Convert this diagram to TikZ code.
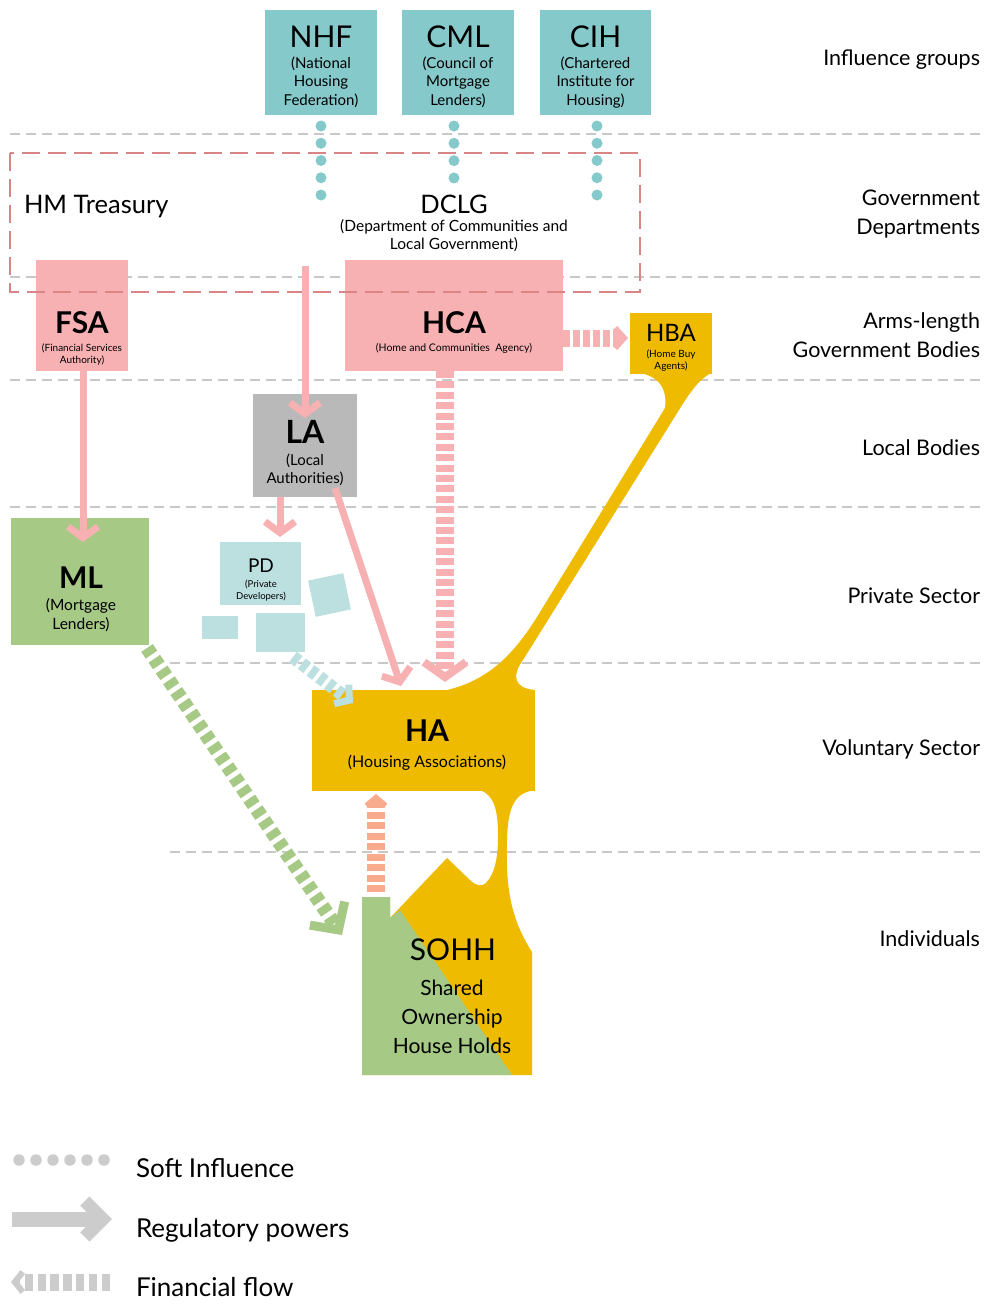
\documentclass[tikz,border=0pt]{standalone}
\usepackage{fontspec}
\setmainfont{Lato}
\usetikzlibrary{arrows.meta}
\definecolor{cteal}{HTML}{86C9CB}
\definecolor{cpink}{HTML}{F7B1B3}
\definecolor{cyel}{HTML}{EFBB00}
\definecolor{cgrayb}{HTML}{B9B9B9}
\definecolor{cgreen}{HTML}{A6C986}
\definecolor{cpd}{HTML}{BCDFE0}
\definecolor{corange}{HTML}{F9AB8E}
\definecolor{clegend}{HTML}{CCCCCC}
\definecolor{cred}{HTML}{D98585}
\definecolor{csep}{HTML}{C8C8C8}
\newcommand\fsz[2]{\fontsize{#1}{#2}\selectfont}
\tikzset{
  bx/.style={fill=#1, draw=none, inner sep=0pt, outer sep=0pt, rectangle},
  txt/.style={inner sep=0pt, outer sep=0pt, anchor=base, align=center},
  rlab/.style={inner sep=0pt, outer sep=0pt, anchor=base east, align=right, font=\fsz{21.5}{29}},
  sepline/.style={draw=csep, line width=1.2pt, dash pattern=on 10pt off 6pt},
  soft/.style={draw=cteal, line width=11pt, line cap=round, dash pattern=on 0pt off #1},
  reg/.style={draw=cpink, line width=7pt, -{Straight Barb[length=11pt,width=30pt,line width=7pt]}},
}
\begin{document}
\begin{tikzpicture}[x=1pt,y=-1pt]
\useasboundingbox (0,0) rectangle (988,1304);
% separators
\draw[sepline] (10,134) -- (980,134);
\draw[sepline] (10,277) -- (980,277);
\draw[sepline] (10,380) -- (980,380);
\draw[sepline] (10,507) -- (980,507);
\draw[sepline] (170,663) -- (980,663);
\draw[sepline] (170,852) -- (980,852);

% influence groups
\node[bx=cteal, minimum width=112pt, minimum height=105pt] (nhf) at (321,62.5) {};
\node[bx=cteal, minimum width=112pt, minimum height=105pt] (cml) at (458,62.5) {};
\node[bx=cteal, minimum width=111pt, minimum height=105pt] (cih) at (595.5,62.5) {};
\node[txt, font=\fsz{30}{30}] (nhft) at (321,47) {NHF};
\node[txt, font=\fsz{15}{18.5}] (nhfs) at (321,105) {(National\\Housing\\Federation)};
\node[txt, font=\fsz{30}{30}] (cmlt) at (458,47) {CML};
\node[txt, font=\fsz{15}{18.5}] (cmls) at (458,105) {(Council of\\Mortgage\\Lenders)};
\node[txt, font=\fsz{30}{30}] (ciht) at (595.5,47) {CIH};
\node[txt, font=\fsz{15}{18.5}] (cihs) at (595.5,105) {(Chartered\\Institute for\\Housing)};

% soft influence dots
\coordinate (nhfa) at (321,126); \coordinate (nhfb) at (321,196);
\coordinate (cmla) at (454,126); \coordinate (cmlb) at (454,179);
\coordinate (ciha) at (597,126); \coordinate (cihb) at (597,196);
\draw[soft=17.25pt] (nhfa) -- (nhfb);
\draw[soft=17.33pt] (cmla) -- (cmlb);
\draw[soft=17.25pt] (ciha) -- (cihb);

% HBA stem (yellow connector HBA -> HA)
\fill[cyel] (631,372) .. controls (655,373) and (668,385) .. (665,408)
  -- (537,617) .. controls (515,652) and (490,680) .. (447,690)
  -- (535,690) .. controls (513,688) and (512,675) .. (523,660)
  -- (679,410) .. controls (690,392) and (700,378) .. (713,372) -- cycle;

% arms-length bodies
\node[bx=cpink, minimum width=92pt, minimum height=111pt] (fsa) at (82,315.5) {};
\node[bx=cpink, minimum width=218pt, minimum height=111pt] (hca) at (454,315.5) {};
\node[bx=cyel, minimum width=82pt, minimum height=61pt] (hba) at (671,343.5) {};
\node[txt, font=\bfseries\fsz{30}{30}] (fsat) at (82,333) {FSA};
\node[txt, font=\fsz{10}{12}] (fsas) at (82,363) {(Financial Services\\Authority)};
\node[txt, font=\bfseries\fsz{30}{30}] (hcat) at (454,333) {HCA};
\node[txt, font=\fsz{10.5}{12}] (hcas) at (454,351) {(Home and Communities~ Agency)};
\node[txt, font=\fsz{24}{24}] (hbat) at (671,341) {HBA};
\node[txt, font=\fsz{10}{11.5}] (hbas) at (671,369) {(Home Buy\\Agents)};

% government departments
\draw[cred, line width=2pt, dash pattern=on 18pt off 8pt] (10,153) rectangle (640,292);
\node[txt, anchor=base west, font=\fsz{25.5}{25.5}] (hmt) at (24,213) {HM Treasury};
\node[txt, font=\fsz{25.5}{25.5}] (dclg) at (454,213) {DCLG};
\node[txt, font=\fsz{15.5}{18}] (dclgs) at (454,249) {(Department of Communities and\\Local Government)};
\coordinate (dclgb) at (305,266);

% local bodies
\node[bx=cgrayb, minimum width=104pt, minimum height=103pt] (la) at (305,445.5) {};
\node[txt, font=\bfseries\fsz{32}{32}] (lat) at (305,443) {LA};
\node[txt, font=\fsz{15}{18}] (las) at (305,483) {(Local\\Authorities)};

% private sector
\node[bx=cgreen, minimum width=138pt, minimum height=127pt] (ml) at (80,581.5) {};
\node[txt, font=\bfseries\fsz{30}{30}] (mlt) at (81,588) {ML};
\node[txt, font=\fsz{15.5}{18.5}] (mls) at (81,629) {(Mortgage\\Lenders)};
\node[bx=cpd, minimum width=81pt, minimum height=63pt] (pd) at (260.5,573.5) {};
\node[bx=cpd, minimum width=36pt, minimum height=23pt] (pdsq1) at (220,627.5) {};
\node[bx=cpd, minimum width=49pt, minimum height=39pt] (pdsq2) at (280.5,632.5) {};
\node[bx=cpd, minimum width=36pt, minimum height=37pt, rotate=12] (pdsq3) at (329.5,595) {};
\node[txt, font=\fsz{19}{19}] (pdt) at (261,572) {PD};
\node[txt, font=\fsz{9.5}{12}] (pds) at (261,599) {(Private\\Developers)};

% voluntary sector + individuals
\node[bx=cyel, minimum width=223pt, minimum height=101pt] (ha) at (423.5,740.5) {};
\fill[cyel] (470,790) -- (535,790) .. controls (515,793) and (508,805) .. (507,840)
  .. controls (506,880) and (508,915) .. (532,952) -- (532,1075) -- (362,1075)
  -- (362,897) -- (390,897) -- (390,918) -- (447,858) -- (470,880)
  .. controls (476,886) and (482,887) .. (486,883)
  .. controls (496,872) and (498,855) .. (498,835)
  .. controls (498,810) and (494,795) .. (480,790) -- cycle;
\fill[cgreen] (362,897) -- (390,897) -- (390,918) -- (400,910) -- (512,1075) -- (362,1075) -- cycle;
\node[txt, font=\bfseries\fsz{30}{30}] (hat) at (427,741) {HA};
\node[txt, font=\fsz{16}{18}] (has) at (427,767) {(Housing Associations)};
\node[txt, font=\fsz{30}{30}] (sohht) at (453,960) {SOHH};
\node[txt, font=\fsz{21}{29}] (sohhs) at (452,1053) {Shared\\Ownership\\House Holds};

% regulatory powers
\coordinate (fsab) at (83,371); \coordinate (mlin) at (83,542);
\draw[reg] (fsab) -- (mlin);
\coordinate (lain) at (305,418);
\draw[reg] (dclgb) -- (lain);
\coordinate (lab) at (280,497); \coordinate (pdin) at (280,537);
\draw[reg] (lab) -- (pdin);
\coordinate (labr) at (335,488); \coordinate (hain) at (401,686);
\draw[reg] (labr) -- (hain);

% financial flows
\coordinate (hcab) at (445,371); \coordinate (hatop) at (445,682);
\draw[draw=cpink, line width=18pt, dash pattern=on 7pt off 3.4pt,
  -{Straight Barb[length=15pt,width=42pt,line width=8pt]}] (hcab) -- (hatop);
\coordinate (hcar) at (563,338); \coordinate (hbal) at (628,338);
\draw[draw=cpink, line width=17pt, dash pattern=on 7pt off 3pt,
  -{Straight Barb[length=9pt,width=20pt,line width=6pt]}] (hcar) -- (hbal);
\coordinate (sohhtop) at (376,892); \coordinate (habot) at (376,794);
\draw[draw=corange, line width=18pt, dash pattern=on 7pt off 3.5pt,
  -{Straight Barb[length=8pt,width=19pt,line width=6pt]}] (sohhtop) -- (habot);
\coordinate (pdout) at (293,657); \coordinate (haleft) at (353,703);
\draw[draw=cpd, line width=13pt, dash pattern=on 7pt off 4pt,
  -{Straight Barb[length=10pt,width=24pt,line width=7pt]}] (pdout) -- (haleft);
\coordinate (mlout) at (147,648); \coordinate (sohhin) at (342,935);
\draw[draw=cgreen, line width=14pt, dash pattern=on 8pt off 5pt,
  -{Straight Barb[length=20pt,width=42pt,line width=9pt]}] (mlout) -- (sohhin);

% right labels
\node[rlab] (l1) at (980,65) {Influence groups};
\node[rlab] (l2) at (980,234) {Government\\Departments};
\node[rlab] (l3) at (980,357) {Arms-length\\Government Bodies};
\node[rlab] (l4) at (980,455) {Local Bodies};
\node[rlab] (l5) at (980,603) {Private Sector};
\node[rlab] (l6) at (980,755) {Voluntary Sector};
\node[rlab] (l7) at (980,946) {Individuals};

% legend
\coordinate (lsa) at (19,1160); \coordinate (lsb) at (104.5,1160);
\draw[draw=clegend, line width=11.5pt, line cap=round, dash pattern=on 0pt off 17pt] (lsa) -- (lsb);
\coordinate (lra) at (12,1219); \coordinate (lrb) at (112,1219);
\draw[draw=clegend, line width=15pt,
  -{Straight Barb[length=18pt,width=36pt,line width=13pt]}] (lra) -- (lrb);
\coordinate (lfa) at (110,1282); \coordinate (lfb) at (11,1282);
\draw[draw=clegend, line width=17pt, dash pattern=on 8.5pt off 4.3pt,
  -{Straight Barb[length=8pt,width=20pt,line width=6pt]}] (lfa) -- (lfb);
\node[txt, anchor=base west, font=\fsz{26}{26}] (lg1) at (136,1177) {Soft Influence};
\node[txt, anchor=base west, font=\fsz{26}{26}] (lg2) at (136,1237) {Regulatory powers};
\node[txt, anchor=base west, font=\fsz{26}{26}] (lg3) at (136,1296) {Financial flow};
\end{tikzpicture}
\end{document}
